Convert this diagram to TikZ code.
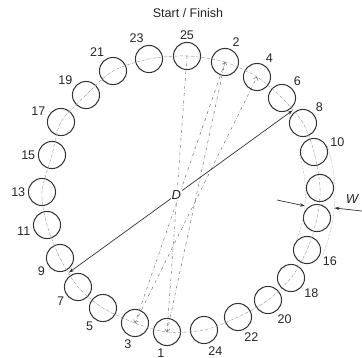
\documentclass[tikz,border=0pt]{standalone}
\usepackage{fontspec}
\setmainfont{Liberation Sans}
\usetikzlibrary{arrows.meta,calc}

\tikzset{
  disc/.style={circle,draw=black!80,line width=1pt,minimum size=27pt,inner sep=0pt},
  num/.style={label distance=1.5pt,inner sep=1pt,text=black!85,font=\fontsize{12.5}{14}\selectfont},
  caption/.style={inner sep=1pt,text=black!85,font=\fontsize{12.5}{14}\selectfont},
  track/.style={densely dash dot,draw=black!40,line width=0.45pt},
  guide/.style={densely dotted,draw=black!45,line width=0.45pt},
  chord/.style={dash dot,draw=black!55,line width=0.5pt},
  dim/.style={draw=black!80,line width=0.7pt},
}

\begin{document}
\begin{tikzpicture}[scale=0.35]
  \useasboundingbox (-18.1,-16.4) rectangle (18.1,19.4);

  % discs round the ring, numbered
  \foreach \n/\x/\y/\a in {25/0.6/13.8/90, 2/4.4/13.2/66, 4/7.6/11.7/61,
      6/10.1/9.6/47, 8/12.2/7.1/41, 10/13.3/4.2/14, 16/12.6/-5.6/-19,
      18/11.0/-8.4/-39, 20/8.7/-10.6/-57, 22/5.7/-12.3/-71, 24/2.3/-13.6/-78,
      1/-1.4/-13.8/-95, 3/-4.6/-12.9/-99, 5/-7.8/-11.4/-124, 7/-10.3/-9.3/-145,
      9/-12.1/-6.4/-153, 11/-13.4/-3.1/-176, 13/-13.9/0.2/180, 15/-12.9/3.9/180,
      17/-12.0/7.2/159, 19/-9.5/9.9/143, 21/-6.8/12.3/120, 23/-3.2/13.5/106}
    \node[disc,label={[num]\a:\n}] (c\n) at (\x,\y) {};
  \foreach \n/\x/\y in {12/13.9/0.6, 14/13.6/-2.4}
    \node[disc] (c\n) at (\x,\y) {};

  \node[caption] (start) at (0.7,18.1) {Start / Finish};

  % path through the centres
  \draw[track] plot[smooth cycle] coordinates {(c25.center) (c2.center)
    (c4.center) (c6.center) (c8.center) (c10.center) (c12.center)
    (c14.center) (c16.center) (c18.center) (c20.center) (c22.center)
    (c24.center) (c1.center) (c3.center) (c5.center) (c7.center)
    (c9.center) (c11.center) (c13.center) (c15.center) (c17.center)
    (c19.center) (c21.center) (c23.center)};

  % width lines
  \draw[guide] (18:12.45) arc[start angle=18,end angle=-24,radius=12.45];
  \draw[guide] (18:15.4) arc[start angle=18,end angle=-24,radius=15.4];

  % first moves
  \fill[black!85] (c25) circle[radius=1.3pt];
  \draw[chord,-{Straight Barb[length=2.5pt]}] (c25.center) -- (c1.center);
  \draw[chord,-{Straight Barb[length=2.5pt]}] (c1.center) -- (c2.center);
  \draw[chord,-{Straight Barb[length=2.5pt]}] (c2.center) -- (c3.center);
  \draw[chord,-{Straight Barb[length=2.5pt]}] (c3.center) -- (c4.center);

  % diameter D
  \coordinate (d1) at ($(c7)!0.5!(c9)$);
  \coordinate (d2) at ($(c6)!0.5!(c8)$);
  \draw[dim,{Stealth[length=5pt,width=3.5pt]}-{Stealth[length=5pt,width=3.5pt]}]
    (d1) -- node[pos=0.48,fill=white,caption,font=\fontsize{13}{14}\itshape] (dlab) {D} (d2);

  % width W
  \coordinate (wl) at (-5.5:12.45);
  \coordinate (wr) at (-5.2:15.4);
  \coordinate (wlt) at (9.6,-0.6);
  \coordinate (wrt) at (18.1,-1.7);
  \draw[dim,-{Stealth[length=5pt,width=3.5pt]}] (wlt) -- (wl);
  \draw[dim,-{Stealth[length=5pt,width=3.5pt]}] (wrt) -- (wr);
  \node[caption,font=\fontsize{13}{14}\itshape] (wlab) at (17.1,-0.5) {W};
\end{tikzpicture}
\end{document}
